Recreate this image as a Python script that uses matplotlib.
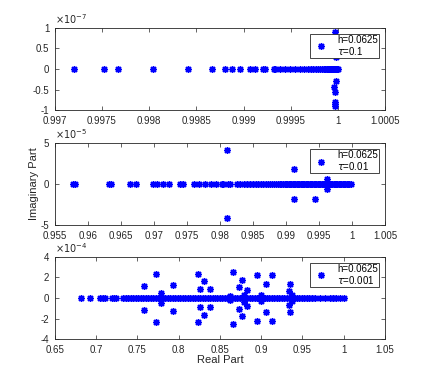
import matplotlib
matplotlib.use('Agg')
import matplotlib.pyplot as plt
import numpy as np
from matplotlib.ticker import FuncFormatter

# eigenvalues, tau = 0.1 (imag part in units of 1)
re_1 = [0.99720, 0.99752, 0.99767, 0.99804, 0.99841, 0.99867, 0.99880, 0.99888,
        0.99896, 0.99907, 0.99912, 0.99921, 0.99923, 0.99932, 0.99933, 0.99939,
        0.99944, 0.99949, 0.99955, 0.99960, 0.99964, 0.99968, 0.99971, 0.99974,
        0.99977, 0.99979, 0.99981, 0.99983, 0.99985, 0.99986, 0.99988, 0.99989,
        0.99990, 0.99991, 0.99992, 0.99993, 0.99994, 0.99995, 0.99996, 0.99997,
        0.99998, 0.99999, 1.00000]
im_1 = [0.0] * len(re_1)
re_1_off = [0.99997, 0.99998, 0.99998, 0.99996, 0.99997, 0.99997, 0.99997, 0.99997]
im_1_off = [0.9e-7, 0.3e-7, -0.3e-7, -0.43e-7, -0.55e-7, -0.8e-7, -0.85e-7, -0.9e-7]

# tau = 0.01
re_2 = [0.95778, 0.95803, 0.96318, 0.96348, 0.96636, 0.96727, 0.96990, 0.97040,
        0.97131, 0.97227, 0.97394, 0.97434, 0.97606, 0.97687, 0.97773, 0.97859,
        0.97939, 0.98025, 0.98050, 0.98126, 0.98152, 0.98253, 0.98310, 0.98360,
        0.98410, 0.98455, 0.98500, 0.98540, 0.98580, 0.98620, 0.98655, 0.98690,
        0.98725, 0.98760, 0.98790, 0.98820, 0.98850, 0.98880, 0.98905, 0.98930,
        0.98955, 0.98980, 0.99000, 0.99020, 0.99040, 0.99060, 0.99080, 0.99100,
        0.99120, 0.99140, 0.99160, 0.99180, 0.99200, 0.99220, 0.99240, 0.99260,
        0.99280, 0.99300, 0.99320, 0.99340, 0.99360, 0.99380, 0.99400, 0.99420,
        0.99440, 0.99460, 0.99480, 0.99500, 0.99520, 0.99540, 0.99560, 0.99580,
        0.99600, 0.99620, 0.99640, 0.99660, 0.99680, 0.99700, 0.99720, 0.99740,
        0.99760, 0.99780, 0.99800, 0.99820, 0.99840, 0.99860, 0.99880, 0.99900,
        0.99920, 0.99940, 0.99960, 0.99980]
im_2 = [0.0] * len(re_2)
re_2_off = [0.98101, 0.98101, 0.99121, 0.99121, 0.99434, 0.99434, 0.99621, 0.99621]
im_2_off = [4.17e-5, -4.17e-5, 1.8e-5, -1.8e-5, 1.8e-5, -1.8e-5, 0.57e-5, -0.65e-5]

# tau = 0.001
re_3 = [0.6815, 0.6928, 0.7045, 0.7086, 0.7106, 0.7195, 0.7219, 0.7247, 0.7328,
        0.7360, 0.7390, 0.7420, 0.7450, 0.7480, 0.7510, 0.7540, 0.7570, 0.7600,
        0.7630, 0.7660, 0.7690, 0.7720, 0.7750, 0.7780, 0.7810, 0.7840, 0.7870,
        0.7900, 0.7930, 0.7960, 0.7990, 0.8020, 0.8050, 0.8080, 0.8110, 0.8140,
        0.8170, 0.8200, 0.8230, 0.8260, 0.8290, 0.8320, 0.8350, 0.8380, 0.8410,
        0.8440, 0.8470, 0.8500, 0.8530, 0.8560, 0.8590, 0.8620, 0.8650, 0.8680,
        0.8710, 0.8740, 0.8770, 0.8800, 0.8830, 0.8860, 0.8890, 0.8920, 0.8950,
        0.8980, 0.9010, 0.9040, 0.9070, 0.9100, 0.9130, 0.9160, 0.9190, 0.9220,
        0.9250, 0.9280, 0.9310, 0.9340, 0.9370, 0.9400, 0.9430, 0.9460, 0.9490,
        0.9520, 0.9550, 0.9580, 0.9610, 0.9650, 0.9712, 0.9773, 0.9830, 0.9870,
        0.9910, 0.9950, 1.0000]
im_3 = [0.0] * len(re_3)
re_3_off = [0.7579, 0.7579, 0.7729, 0.7729, 0.7788, 0.7788, 0.7930, 0.7930,
            0.8237, 0.8237, 0.8253, 0.8253, 0.8301, 0.8301, 0.8382, 0.8382,
            0.8625, 0.8625, 0.8653, 0.8653, 0.8725, 0.8725, 0.8766, 0.8766,
            0.8794, 0.8794, 0.8822, 0.8822, 0.8944, 0.8944, 0.9000, 0.9000,
            0.9053, 0.9053, 0.9129, 0.9129, 0.9331, 0.9331, 0.9352, 0.9352,
            0.9368, 0.9368]
im_3_off = [1.17e-4, -1.17e-4, 2.36e-4, -2.36e-4, 0.49e-4, -0.49e-4, 1.23e-4, -1.23e-4,
            2.36e-4, -2.36e-4, 0.87e-4, -0.87e-4, 1.68e-4, -1.68e-4, 0.91e-4, -0.91e-4,
            0.2e-4, -0.2e-4, 2.52e-4, -2.52e-4, 1.07e-4, -1.07e-4, 1.72e-4, -1.72e-4,
            0.32e-4, -0.35e-4, 0.81e-4, -0.81e-4, 2.2e-4, -2.2e-4, 0.26e-4, -0.26e-4,
            1.39e-4, -1.39e-4, 2.27e-4, -2.27e-4, 0.68e-4, -0.68e-4, 1.39e-4, -1.39e-4,
            0.26e-4, -0.26e-4]

taus = ['0.1', '0.01', '0.001']
panels = [
    (re_1 + re_1_off, im_1 + im_1_off, 1e-7, -7, (0.997, 1.0005), np.arange(0.997, 1.0006, 0.0005), [-1, -0.5, 0, 0.5, 1]),
    (re_2 + re_2_off, im_2 + im_2_off, 1e-5, -5, (0.955, 1.005), np.arange(0.955, 1.0051, 0.005), [-5, 0, 5]),
    (re_3 + re_3_off, im_3 + im_3_off, 1e-4, -4, (0.65, 1.05), np.arange(0.65, 1.051, 0.05), [-4, -2, 0, 2, 4]),
]
bottoms = [0.711, 0.409, 0.110]
ink = '#262626'

plt.rcParams['font.family'] = ['Liberation Sans', 'DejaVu Sans']
fig = plt.figure(figsize=(4.25, 3.81), dpi=100)

for (re, im, scale, expo, xlim, xticks, yticks), tau, b in zip(panels, taus, bottoms):
    ax = fig.add_axes([0.129, b, 0.777, 0.216])
    ax.plot(re, im, linestyle='none', marker=(8, 2, 0), markersize=5, markeredgewidth=1.0,
            color='blue', label='h=0.0625\n$\\tau$=' + tau)
    ax.set_xlim(*xlim)
    ax.set_ylim(yticks[0] * scale, yticks[-1] * scale)
    ax.set_xticks(xticks)
    ax.xaxis.set_major_formatter(FuncFormatter(lambda v, p: f'{v:.4f}'.rstrip('0').rstrip('.')))
    ax.set_yticks([t * scale for t in yticks])
    ax.yaxis.set_major_formatter(FuncFormatter(lambda v, p, s=scale: f'{v / s:g}'))
    ax.tick_params(direction='in', top=True, right=True, labelsize=7, length=3, width=0.5,
                   colors=ink)
    ax.tick_params(axis='x', pad=4.5)
    ax.tick_params(axis='y', pad=4)
    for sp in ax.spines.values():
        sp.set_linewidth(0.6)
        sp.set_color(ink)
    ax.text(0.0, 1.02, '$\\times10^{%d}$' % expo, transform=ax.transAxes,
            fontsize=7, color=ink, ha='left', va='bottom')
    leg = ax.legend(loc='upper right', fontsize=7, frameon=True, fancybox=False,
                    edgecolor=ink, framealpha=1, handletextpad=0.6,
                    borderpad=0.15, handlelength=2.0, borderaxespad=0.6)
    leg.get_frame().set_linewidth(0.6)
    for t in leg.get_texts():
        t.set_linespacing(0.95)
    if b == bottoms[1]:
        ax.set_ylabel('Imaginary Part', fontsize=8, color=ink, labelpad=1)
    if b == bottoms[2]:
        ax.set_xlabel('Real Part', fontsize=8, color=ink, labelpad=0)

fig.savefig('out.png', dpi=100)
